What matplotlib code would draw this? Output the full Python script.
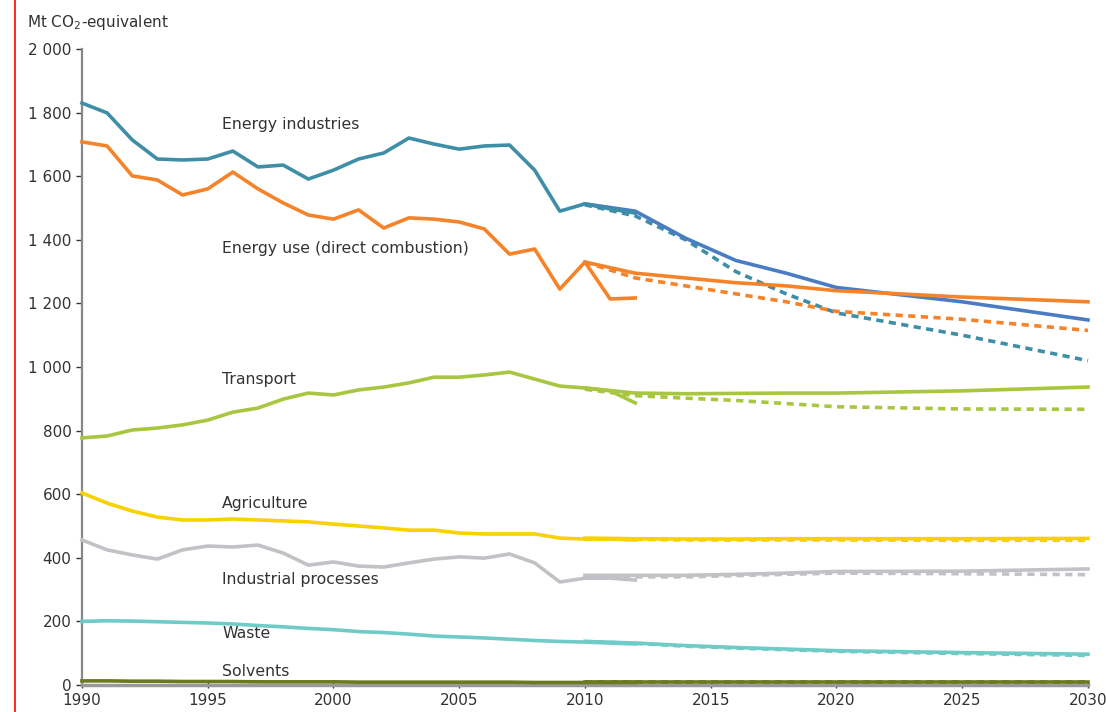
import matplotlib
matplotlib.use("Agg")
import matplotlib.pyplot as plt
from matplotlib.lines import Line2D
from matplotlib.ticker import FuncFormatter

# historical inventory 1990-2012
hist_years = list(range(1990, 2013))
energy_ind = [1830, 1799, 1714, 1654, 1651, 1654, 1679, 1629, 1635, 1591, 1619, 1654,
              1673, 1720, 1701, 1685, 1695, 1698, 1619, 1490, 1513, 1497, 1484]
energy_use = [1708, 1695, 1601, 1588, 1541, 1560, 1613, 1560, 1516, 1478, 1465, 1494,
              1437, 1469, 1465, 1456, 1434, 1355, 1371, 1245, 1330, 1214, 1217]
transport = [777, 783, 802, 808, 818, 833, 858, 871, 899, 918, 912, 928,
             937, 950, 968, 968, 975, 984, 962, 940, 934, 925, 887]
agriculture = [604, 572, 547, 528, 519, 519, 522, 519, 516, 513, 506, 500,
               494, 487, 487, 478, 475, 475, 475, 462, 459, 459, 456]
industrial = [456, 425, 409, 396, 425, 437, 434, 440, 415, 377, 387, 374,
              371, 384, 396, 403, 399, 412, 384, 324, 336, 336, 330]
waste = [200, 202, 201, 199, 197, 195, 192, 187, 183, 178, 174, 168,
         165, 160, 154, 151, 148, 144, 140, 137, 135, 132, 129]
solvents = [13, 13, 12, 12, 11, 11, 11, 10, 10, 10, 10, 9,
            9, 9, 9, 9, 9, 9, 8, 8, 8, 8, 8]

# projections: with existing measures (solid) / with additional measures (dashed)
proj_years = [2010, 2012, 2014, 2016, 2018, 2020, 2025, 2030]
energy_ind_wem = [1513, 1490, 1405, 1335, 1295, 1250, 1205, 1148]
energy_ind_wam = [1510, 1475, 1400, 1300, 1230, 1170, 1100, 1020]
energy_use_wem = [1330, 1295, 1280, 1265, 1255, 1240, 1220, 1205]
energy_use_wam = [1330, 1280, 1255, 1230, 1205, 1175, 1150, 1115]
transport_wem = [934, 918, 916, 917, 918, 918, 925, 937]
transport_wam = [930, 910, 902, 895, 885, 875, 868, 867]
agriculture_wem = [462, 460, 459, 459, 460, 460, 460, 461]
agriculture_wam = [460, 458, 456, 456, 456, 456, 455, 455]
industrial_wem = [345, 345, 345, 348, 352, 357, 358, 365]
industrial_wam = [340, 340, 340, 344, 348, 352, 350, 347]
waste_wem = [137, 132, 124, 118, 113, 108, 102, 97]
waste_wam = [137, 131, 122, 116, 111, 106, 99, 93]
solvents_wem = [9, 9, 9, 9, 9, 9, 9, 9]
solvents_wam = [9, 9, 9, 9, 9, 9, 9, 9]

labels = ["Energy industries", "Energy use (direct combustion)", "Transport",
          "Agriculture", "Industrial processes", "Waste", "Solvents"]
label_y = [1764, 1374, 962, 572, 333, 163, 44]

series = [
    (energy_ind, energy_ind_wem, energy_ind_wam, "#3f8ea8", "#4a7cc4"),
    (energy_use, energy_use_wem, energy_use_wam, "#f5832a", "#f5832a"),
    (transport, transport_wem, transport_wam, "#a8c640", "#a8c640"),
    (agriculture, agriculture_wem, agriculture_wam, "#f7d100", "#f7d100"),
    (industrial, industrial_wem, industrial_wam, "#c2c2c6", "#c2c2c6"),
    (waste, waste_wem, waste_wam, "#6fcbc7", "#6fcbc7"),
    (solvents, solvents_wem, solvents_wam, "#6a7a1e", "#6a7a1e"),
]

fig = plt.figure(figsize=(11.06, 7.12), dpi=100)
ax = fig.add_axes([0.0741, 0.0379, 0.9096, 0.8933])

lw = 2.6
for hist, wem, wam, c_hist, c_wem in series:
    ax.plot(proj_years, wam, color=c_hist, lw=lw, ls=(0, (2.0, 1.5)),
            clip_on=False, zorder=2)
    ax.plot(proj_years, wem, color=c_wem, lw=lw, clip_on=False, zorder=3)
    ax.plot(hist_years, hist, color=c_hist, lw=lw, clip_on=False, zorder=4)

for lab, ly in zip(labels, label_y):
    ax.text(1995.57, ly, lab, fontsize=11.3, color="#333333", va="center", ha="left")

ax.set_xlim(1990, 2030)
ax.set_ylim(0, 2000)
ax.set_xticks(range(1990, 2031, 5))
ax.set_yticks(range(0, 2001, 200))
ax.yaxis.set_major_formatter(FuncFormatter(lambda v, p: f"{int(v):,}".replace(",", " ")))
ax.tick_params(labelsize=11, colors="#333333", length=4, width=1, direction="out")
ax.tick_params(axis="x", length=4, direction="inout")

for s in ["top", "right"]:
    ax.spines[s].set_visible(False)
ax.spines["left"].set_color("#888888")
ax.spines["left"].set_linewidth(1.6)
ax.spines["bottom"].set_color("#999999")
ax.spines["bottom"].set_linewidth(2.5)

fig.text(27 / 1106, 1 - 22 / 712, "Mt CO$_2$-equivalent", fontsize=11, color="#333333",
         va="center", ha="left")

fig.add_artist(Line2D([15 / 1106, 15 / 1106], [0, 1], color="red", lw=1.2,
                      transform=fig.transFigure))

fig.savefig("out.png", dpi=100)
